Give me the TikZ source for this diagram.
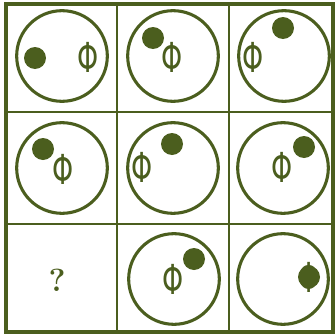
\documentclass[tikz,border=0pt]{standalone}
\usepackage{fontspec}
\newfontfamily\symfont{DejaVu Sans}
\definecolor{inkgreen}{HTML}{4B5E1E}
\usetikzlibrary{positioning}

\begin{document}
\begin{tikzpicture}[x=0.75pt, y=-0.75pt,
  ring/.style={circle, draw=inkgreen, line width=2.3pt, minimum size=68pt, inner sep=0pt},
  dot/.style={circle, fill=inkgreen, minimum size=16.5pt, inner sep=0pt},
  phisym/.style={text=inkgreen, inner sep=0pt, font=\symfont\fontsize{31}{31}\selectfont}]
  \useasboundingbox (0,0) rectangle (335,336);
  \fill[white] (0,0) rectangle (335,336);

  % Grid
  \draw[inkgreen, line width=2.6pt] (6,4) rectangle (333,332);
  \draw[inkgreen, line width=2.2pt] (117,4) -- (117,332);
  \draw[inkgreen, line width=2.2pt] (229,4) -- (229,332);
  \draw[inkgreen, line width=2.2pt] (6,112) -- (333,112);
  \draw[inkgreen, line width=2.2pt] (6,224) -- (333,224);

  % Row 1
  \node[ring] (c11) at (62,56) {};
  \node[dot] (d11) at (35,58) {};
  \node[phisym] (p11) at (88,57) {\scalebox{0.65}[1]{Φ}};
  \node[ring] (c12) at (173,56) {};
  \node[dot] (d12) at (153,38) {};
  \node[phisym] (p12) at (172,57) {\scalebox{0.65}[1]{Φ}};
  \node[ring] (c13) at (284,56) {};
  \node[dot] (d13) at (283,28) {};
  \node[phisym] (p13) at (253,57) {\scalebox{0.65}[1]{Φ}};

  % Row 2
  \node[ring] (c21) at (62,168) {};
  \node[dot] (d21) at (43,149) {};
  \node[phisym] (p21) at (63,169) {\scalebox{0.65}[1]{Φ}};
  \node[ring] (c22) at (173,168) {};
  \node[dot] (d22) at (172,144) {};
  \node[phisym] (p22) at (142,167) {\scalebox{0.65}[1]{Φ}};
  \node[ring] (c23) at (283,168) {};
  \node[dot] (d23) at (304,147) {};
  \node[phisym] (p23) at (282,167) {\scalebox{0.65}[1]{Φ}};

  % Row 3
  \node[text=inkgreen, font=\bfseries\fontsize{24}{24}\selectfont] (q31) at (57,280) {?};
  \node[ring] (c32) at (174,279) {};
  \node[dot] (d32) at (194,259) {};
  \node[phisym] (p32) at (173,279) {\scalebox{0.65}[1]{Φ}};
  \node[ring] (c33) at (283,279) {};
  \node[phisym] (p33) at (309,277) {\scalebox{0.65}[1]{Φ}};
  \node[dot] (d33) at (309,277) {};
\end{tikzpicture}
\end{document}
